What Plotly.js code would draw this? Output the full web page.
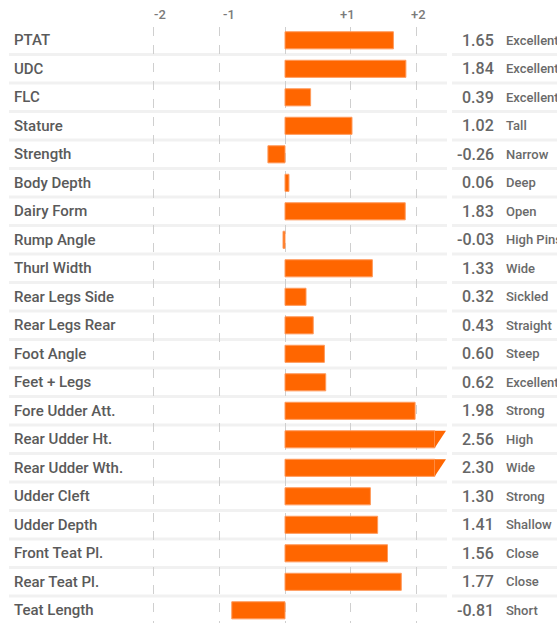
<!DOCTYPE html>
<html>
<head>
<meta charset="utf-8">
<script src="https://cdn.plot.ly/plotly-3.0.1.min.js"></script>
<style>html,body{margin:0;padding:0;background:#fff;}#chart{width:557px;height:623px;}</style>
</head>
<body>
<div id="chart"></div>
<script>
// ---- data ----
var traits = ["PTAT","UDC","FLC","Stature","Strength","Body Depth","Dairy Form","Rump Angle","Thurl Width","Rear Legs Side","Rear Legs Rear","Foot Angle","Feet + Legs","Fore Udder Att.","Rear Udder Ht.","Rear Udder Wth.","Udder Cleft","Udder Depth","Front Teat Pl.","Rear Teat Pl.","Teat Length"];
var values = [1.65,1.84,0.39,1.02,-0.26,0.06,1.83,-0.03,1.33,0.32,0.43,0.60,0.62,1.98,2.56,2.30,1.30,1.41,1.56,1.77,-0.81];
var descriptors = ["Excellent","Excellent","Excellent","Tall","Narrow","Deep","Open","High Pins","Wide","Sickled","Straight","Steep","Excellent","Strong","High","Wide","Strong","Shallow","Close","Close","Short"];
var gridVals = [-2,-1,0,1,2];
var tickVals = [-2,-1,1,2];
var tickText = ["-2","-1","+1","+2"];

// ---- styling / layout constants ----
var CAP = 2.28, TIP = 2.45, BARW = 0.6;
var W = 557, H = 623, TOP = 27;
var tickShift = [6, 10, -3, 2];
var idx = traits.map(function(_, i){ return i; });
var barX = values.map(function(v){ return Math.min(v, CAP); });
var grayText = "#5a5a5a";

var shapes = [];
// row separators
for (var i = 0; i < traits.length - 1; i++) {
  shapes.push({type:"line", layer:"below", xref:"paper", yref:"y", x0:9/W, x1:447/W, y0:i+0.5, y1:i+0.5, line:{color:"#f1f1f1", width:3}});
  shapes.push({type:"line", layer:"below", xref:"paper", yref:"y", x0:452/W, x1:1, y0:i+0.5, y1:i+0.5, line:{color:"#f1f1f1", width:3}});
}
// arrow tips for values beyond the cap
values.forEach(function(v, i){
  if (v > CAP) {
    var top = i - BARW/2, bot = i + BARW/2;
    shapes.push({type:"path", layer:"above", xref:"x", yref:"y",
      path:"M"+CAP+","+bot+" L"+TIP+","+top+" L"+CAP+","+top+" Z",
      fillcolor:"#ff6600", line:{width:0}});
  }
});

var annotations = [];
traits.forEach(function(t, i){
  annotations.push({xref:"paper", yref:"y", x:12/W, y:i, text:t, showarrow:false, xanchor:"left", yanchor:"middle",
    font:{family:"Roboto, sans-serif", size:15, weight:500, color:grayText}});
  annotations.push({xref:"paper", yref:"y", x:496/W, y:i, text:values[i].toFixed(2), showarrow:false, xanchor:"right", yanchor:"middle",
    font:{family:"Roboto, sans-serif", size:16, weight:500, color:"#666"}});
  annotations.push({xref:"paper", yref:"y", x:504/W, y:i, text:descriptors[i], showarrow:false, xanchor:"left", yanchor:"middle",
    font:{family:"Roboto, sans-serif", size:13, weight:500, color:"#6a6a6a"}});
});
// top tick labels
tickVals.forEach(function(v, k){
  annotations.push({xref:"x", yref:"paper", x:v, y:1 + 12/(H-TOP), text:tickText[k], showarrow:false,
    xanchor:"center", yanchor:"middle", xshift:tickShift[k],
    font:{family:"Roboto, sans-serif", size:13, weight:500, color:"#7a7a7a"}});
});

var x0px = 285, unit = 65.7;
var trace = {
  type:"bar", orientation:"h", x:barX, y:idx, width:BARW,
  marker:{color:"#ff6600", line:{color:"#ff9a5c", width:1}},
  hoverinfo:"skip"
};

var layout = {
  width:W, height:H,
  margin:{l:0, r:0, t:TOP, b:0, pad:0},
  paper_bgcolor:"#fff", plot_bgcolor:"rgba(0,0,0,0)",
  showlegend:false,
  bargap:0,
  xaxis:{
    side:"top", range:[-x0px/unit, (W-x0px)/unit],
    tickvals:gridVals, showticklabels:false, ticks:"",
    showgrid:true, gridcolor:"#cfcfcf", griddash:"dash", gridwidth:1,
    zeroline:false, showline:false, fixedrange:true
  },
  yaxis:{
    range:[-0.467 + (H-TOP)/28.5, -0.467],
    showgrid:false, zeroline:false, showticklabels:false, showline:false, fixedrange:true
  },
  shapes:shapes,
  annotations:annotations
};

Plotly.newPlot("chart", [trace], layout, {displayModeBar:false, staticPlot:true});
</script>
</body>
</html>
